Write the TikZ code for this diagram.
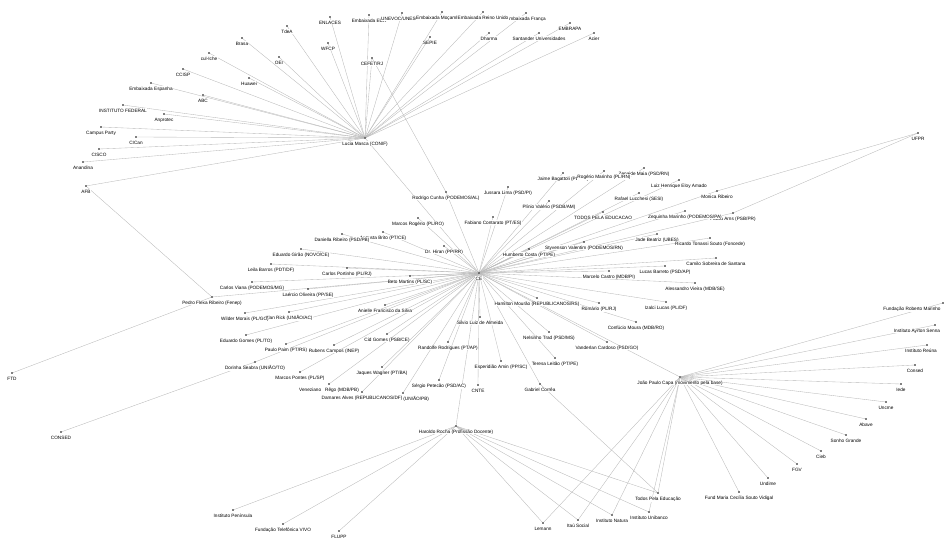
\documentclass[tikz,border=0pt]{standalone}
\usepackage{fontspec}
\setmainfont{Liberation Sans}
\usetikzlibrary{backgrounds}
\begin{document}
\begin{tikzpicture}[x=1pt, y=-1pt,
    dot/.style={circle, fill=black, inner sep=0pt, minimum size=1.8pt},
    lbl/.style={font=\fontsize{4.7}{5}\selectfont, fill=white, inner sep=0.3pt, label distance=2.2pt},
    nd/.style={dot, label={[lbl]below:#1}},
    edge/.style={draw=gray!55, line width=0.35pt}]
  \useasboundingbox (0,0) rectangle (950,545);
  \node[nd=Lucia Masca (CONIF)] (lucia) at (365,138) {};
  \node[nd=Anandina] (anandina) at (83,162) {};
  \node[nd=CISCO] (cisco) at (99,149) {};
  \node[nd=CICan] (cican) at (136,137) {};
  \node[nd=Campus Party] (campus) at (101,127) {};
  \node[nd=Anprotec] (anprotec) at (164,114) {};
  \node[nd=INSTITUTO FEDERAL] (instfed) at (123,105) {};
  \node[nd=ABC] (abc) at (203,95) {};
  \node[nd=Embaixada Espanha] (espanha) at (151,83) {};
  \node[nd=CCISP] (ccisp) at (183,69) {};
  \node[nd=cul-Iche] (culiche) at (209,53) {};
  \node[nd=Brasa] (brasa) at (242,38) {};
  \node[nd=Huawei] (huawei) at (249,78) {};
  \node[nd=OEI] (oei) at (279,57) {};
  \node[nd=TdeA] (tdea) at (287,26) {};
  \node[nd=ENLACES] (enlaces) at (330,17) {};
  \node[nd=WFCP] (wfcp) at (328,43) {};
  \node[nd=Embaixada EUA] (eua) at (369,15) {};
  \node[nd=UNEVOC/UNESCO] (unevoc) at (402,13) {};
  \node[nd=Embaixada Moçambique] (mocambique) at (442,12) {};
  \node[nd=Embaixada França] (franca) at (526,13) {};
  \node[nd=Embaixada Reino Unido] (reino) at (483,12) {};
  \node[nd=SEPIE] (sepie) at (430,37) {};
  \node[nd=CEFET/RJ] (cefet) at (372,58) {};
  \node[nd=Dharma] (dharma) at (489,33) {};
  \node[nd=Santander Universidades] (santander) at (539,33) {};
  \node[nd=EMBRAPA] (embrapa) at (570,23) {};
  \node[nd=Acier] (acier) at (594,33) {};
  \node[nd=AFB] (afb) at (86,186) {};

  \node[nd=CE] (ce) at (479,273) {};
  \node[nd=Pedro Flexa Ribeiro (Fenep)] (pedro) at (212,297) {};
  \node[nd=FTD] (ftd) at (12,373) {};
  \node[nd=Dorinha Seabra (UNIÃO/TO)] (dorinha) at (255,362) {};
  \node[nd=CONSED] (consed) at (61,432) {};
  \node[nd=Rodrigo Cunha (PODEMOS/AL)] (rodrigo) at (446,192) {};
  \node[nd=Jussara Lima (PSD/PI)] (jussara) at (508,187) {};
  \node[nd=Jaime Bagattoli (PL/RO)] (jaime) at (563,173) {};
  \node[nd=Zenaide Maia (PSD/RN)] (zenaide) at (644,168) {};
  \node[nd=Rogério Marinho (PL/RN)] (rogerio) at (604,171) {};
  \node[nd=Luiz Henrique Eloy Amado] (eloy) at (679,180) {};
  \node[nd=Plínio Valério (PSDB/AM)] (plinio) at (549,201) {};
  \node[nd=Rafael Lucchesi (SESI)] (rafael) at (639,193) {};
  \node[nd=Monica Ribeiro] (monica) at (717,191) {};
  \node[nd=Fabiano Contarato (PT/ES)] (fabiano) at (493,217) {};
  \node[nd=TODOS PELA EDUCACAO] (todoscaps) at (603,212) {};
  \node[nd=Flávia Arns (PSB/PR)] (flavia) at (733,213) {};
  \node[nd=Zequinha Marinho (PODEMOS/PA)] (zequinha) at (685,211) {};
  \node[nd=UFPR] (ufpr) at (918,133) {};
  \node[nd=Jade Beatriz (UBES)] (jade) at (657,234) {};
  \node[nd=Ricardo Tonassi Souto (Foncede)] (ricardo) at (710,238) {};
  \node[nd=Styvenson Valentim (PODEMOS/RN)] (styvenson) at (584,242) {};
  \node[nd=Humberto Costa (PT/PE)] (humberto) at (529,249) {};
  \node[nd=Camilo Sobreira de Santana] (camilo) at (716,258) {};
  \node[nd=Lucas Barreto (PSD/AP)] (lucas) at (665,266) {};
  \node[nd=Marcelo Castro (MDB/PI)] (marcelo) at (609,271) {};
  \node[nd=Alessandro Vieira (MDB/SE)] (alessandro) at (695,283) {};
  \node[nd=Izalci Lucas (PL/DF)] (izalci) at (666,302) {};
  \node[nd=Romário (PL/RJ)] (romario) at (599,303) {};
  \node[nd=Hamilton Mourão (REPUBLICANOS/RS)] (mourao) at (537,298) {};
  \node[nd=Confúcio Moura (MDB/RO)] (confucio) at (636,322) {};
  \node[nd=Nelsinho Trad (PSD/MS)] (nelsinho) at (549,332) {};
  \node[nd=Vanderlan Cardoso (PSD/GO)] (vanderlan) at (607,342) {};
  \node[nd=Teresa Leitão (PT/PE)] (teresa) at (555,358) {};
  \node[nd=Esperidião Amin (PP/SC)] (amin) at (501,361) {};
  \node[nd=CNTE] (cnte) at (478,385) {};
  \node[nd=Gabriel Corrêa] (gabriel) at (540,384) {};
  \node[nd=Silvio Luiz de Almeida] (silvio) at (480,317) {};
  \node[nd=Randolfe Rodrigues (PT/AP)] (randolfe) at (448,342) {};
  \node[nd=Marcos Rogério (PL/RO)] (marcosr) at (418,218) {};
  \node[nd=Dr. Hiran (PP/RR)] (hiran) at (444,246) {};
  \node[nd=Augusta Brito (PT/CE)] (augusta) at (383,232) {};
  \node[nd=Daniella Ribeiro (PSD/PB)] (daniella) at (342,234) {};
  \node[nd=Eduardo Girão (NOVO/CE)] (girao) at (301,249) {};
  \node[nd=Leila Barros (PDT/DF)] (leila) at (271,264) {};
  \node[nd=Carlos Portinho (PL/RJ)] (portinho) at (347,268) {};
  \node[nd=Beto Martins (PL/SC)] (beto) at (410,276) {};
  \node[nd=Carlos Viana (PODEMOS/MG)] (viana) at (252,282) {};
  \node[nd=Laércio Oliveira (PP/SE)] (laercio) at (308,289) {};
  \node[nd=Alan Rick (UNIÃO/AC)] (alan) at (289,312) {};
  \node[nd=Wilder Morais (PL/GO)] (wilder) at (245,313) {};
  \node[nd=Anielle Francisco da Silva] (anielle) at (385,305) {};
  \node[nd=Eduardo Gomes (PL/TO)] (egomes) at (246,335) {};
  \node[nd=Cid Gomes (PSB/CE)] (cid) at (387,334) {};
  \node[nd=Paulo Paim (PT/RS)] (paim) at (286,344) {};
  \node[nd=Rubens Campos (INEP)] (rubens) at (334,345) {};
  \node[nd=Marcos Pontes (PL/SP)] (pontes) at (300,372) {};
  \node[nd=Jaques Wagner (PT/BA)] (jaques) at (382,367) {};
  \node[nd=Sérgio Petecão (PSD/AC)] (petecao) at (439,380) {};
  \node[nd={Veneziano\hspace{4pt}Rêgo (MDB/PB)}] (veneziano) at (329,384) {};
  \node[nd=Efraim Filho (UNIÃO/PB)] (efraim) at (403,393) {};
  \node[nd=Damares Alves (REPUBLICANOS/DF)] (damares) at (362,392) {};

  \node[nd=Haroldo Rocha (Profissão Docente)] (haroldo) at (456,426) {};
  \node[nd=Instituto Península] (peninsula) at (233,510) {};
  \node[nd=Fundação Telefônica VIVO] (vivo) at (283,524) {};
  \node[nd=FLUPP] (flupp) at (339,531) {};
  \node[nd=Lemann] (lemann) at (543,523) {};
  \node[nd=Itaú Social] (itau) at (578,520) {};
  \node[nd=Instituto Natura] (natura) at (612,515) {};
  \node[nd=Instituto Unibanco] (unibanco) at (649,512) {};
  \node[nd=Todos Pela Educação] (todos) at (658,493) {};

  \node[nd=João Paulo Capa (movimento pela base)] (joao) at (680,377) {};
  \node[dot, label={[lbl,xshift=-31pt]below:Fundação Roberto Marinho}] (frm) at (943,303) {};
  \node[dot, label={[lbl,xshift=-18pt]below:Instituto Ayrton Senna}] (ayrton) at (935,325) {};
  \node[dot, label={[lbl,xshift=-6pt]below:Instituto Reúna}] (reuna) at (927,345) {};
  \node[nd=Consed] (consedb) at (915,365) {};
  \node[nd=Iede] (iede) at (901,384) {};
  \node[nd=Uncme] (uncme) at (886,402) {};
  \node[nd=Abave] (abave) at (866,419) {};
  \node[nd=Sonho Grande] (sonho) at (846,435) {};
  \node[nd=Cieb] (cieb) at (821,451) {};
  \node[nd=FGV] (fgv) at (797,464) {};
  \node[nd=Undime] (undime) at (768,478) {};
  \node[nd=Fund Maria Cecília Souto Vidigal] (vidigal) at (739,492) {};

  \begin{pgfonlayer}{background}
    \foreach \n in {anandina,cisco,cican,campus,anprotec,instfed,abc,espanha,ccisp,culiche,
        brasa,huawei,oei,tdea,enlaces,wfcp,eua,unevoc,mocambique,reino,franca,sepie,cefet,
        dharma,santander,embrapa,acier,afb,ce}
      \draw[edge] (lucia) -- (\n);
    \foreach \n in {pedro,dorinha,rodrigo,jussara,jaime,zenaide,rogerio,eloy,plinio,rafael,
        monica,fabiano,todoscaps,flavia,zequinha,jade,ricardo,styvenson,humberto,camilo,lucas,
        marcelo,alessandro,izalci,romario,mourao,confucio,nelsinho,vanderlan,teresa,amin,cnte,
        gabriel,silvio,randolfe,marcosr,hiran,augusta,daniella,girao,leila,portinho,beto,viana,
        laercio,alan,wilder,anielle,egomes,cid,paim,rubens,pontes,jaques,petecao,veneziano,
        efraim,damares,haroldo,joao}
      \draw[edge] (ce) -- (\n);
    \foreach \n in {peninsula,vivo,flupp,lemann,itau,natura,unibanco,todos}
      \draw[edge] (haroldo) -- (\n);
    \foreach \n in {lemann,itau,natura,unibanco,todos,frm,ayrton,reuna,consedb,iede,uncme,
        abave,sonho,cieb,fgv,undime,vidigal}
      \draw[edge] (joao) -- (\n);
    \draw[edge] (afb) -- (pedro);
    \draw[edge] (pedro) -- (ftd);
    \draw[edge] (dorinha) -- (consed);
    \draw[edge] (ufpr) -- (monica);
    \draw[edge] (ufpr) -- (flavia);
    \draw[edge] (cefet) -- (rodrigo);
    \draw[edge] (gabriel) -- (todos);
  \end{pgfonlayer}
\end{tikzpicture}
\end{document}
